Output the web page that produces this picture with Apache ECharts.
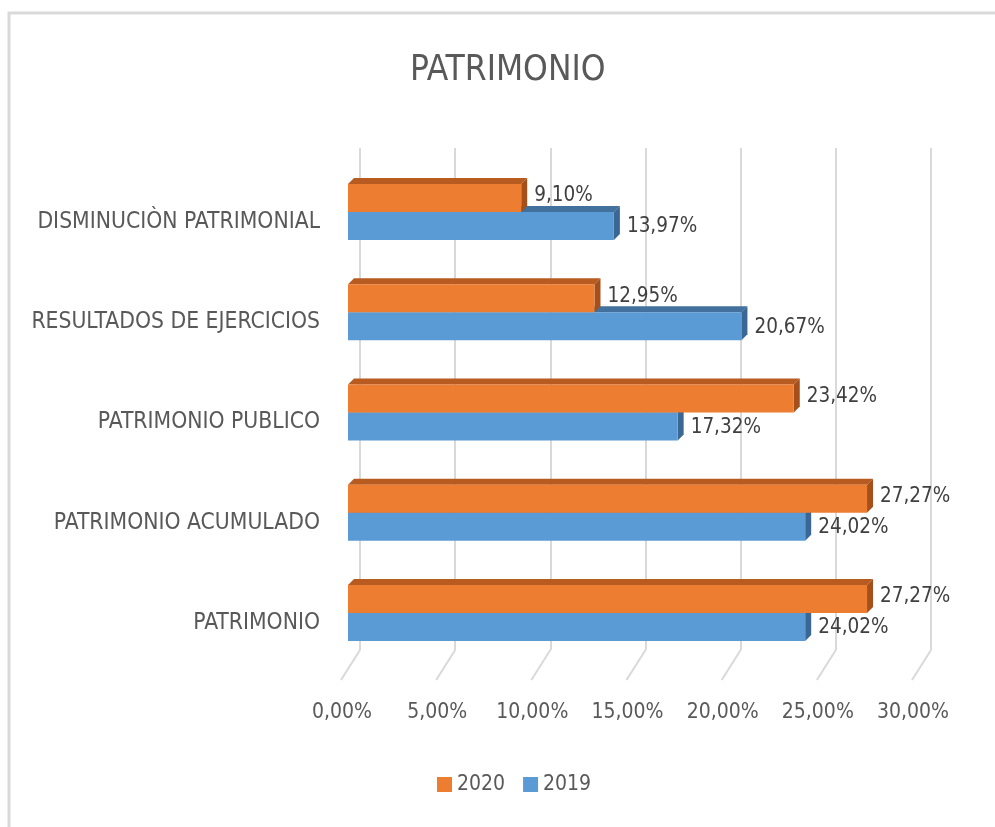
<!DOCTYPE html>
<html><head><meta charset="utf-8">
<script src="https://cdn.jsdelivr.net/npm/echarts@6/dist/echarts.min.js"></script>
<style>html,body{margin:0;padding:0;background:#fff}#c{width:995px;height:827px}</style>
</head><body><div id="c"></div>
<script>
const categories = ['DISMINUCIÒN PATRIMONIAL','RESULTADOS DE EJERCICIOS','PATRIMONIO PUBLICO','PATRIMONIO ACUMULADO','PATRIMONIO'];
const values2020 = [9.10, 12.95, 23.42, 27.27, 27.27];
const values2019 = [13.97, 20.67, 17.32, 24.02, 24.02];
const tickValues = [0, 5, 10, 15, 20, 25, 30];

const FONT = "'Liberation Sans Narrow','DejaVu Sans Condensed',sans-serif";
const TXT = '#595959';
const fmt = v => v.toFixed(2).replace('.', ',') + '%';

const chart = echarts.init(document.getElementById('c'), null, {renderer:'canvas'});

function barRender(color, topColor, sideColor, upper) {
  return function (params, api) {
    const i = api.value(0);
    const v = api.value(1);
    const p0 = api.coord([0, i]);
    const p1 = api.coord([v, i]);
    const bh = 28, dx = 6, dy = -6;
    const x0 = p0[0], x1 = p1[0];
    const yt = upper ? p0[1] - bh : p0[1];
    const yb = yt + bh;
    return {
      type: 'group',
      children: [
        {type:'polygon', shape:{points:[[x0,yt],[x0+dx,yt+dy],[x1+dx,yt+dy],[x1,yt]]}, style:{fill:topColor}},
        {type:'polygon', shape:{points:[[x1,yt],[x1+dx,yt+dy],[x1+dx,yb+dy],[x1,yb]]}, style:{fill:sideColor}},
        {type:'rect', shape:{x:x0, y:yt, width:x1-x0, height:bh}, style:{fill:color}},
        {type:'text', x:x1+13, y:(yt+yb)/2 + (upper ? -2 : 1), style:{text:fmt(v), fill:'#404040', font:'20.5px ' + FONT, textAlign:'left', textVerticalAlign:'middle'}}
      ]
    };
  };
}

const option = {
  animation: false,
  title: {text:'PATRIMONIO', left:405, top:48, textStyle:{fontFamily:FONT, fontSize:35, fontWeight:'normal', color:TXT}},
  legend: {
    data:['2020','2019'], top:769, left:432, itemWidth:15, itemHeight:15, itemGap:18,
    icon:'rect', textStyle:{fontFamily:FONT, fontSize:21, color:TXT}
  },
  graphic: [{type:'rect', shape:{x:9, y:13, width:1100, height:1000}, style:{fill:'none', stroke:'#d9d9d9', lineWidth:3}, z:-10}],
  grid: [
    {left:348, width:571, top:162, height:501},
    {left:360, width:571, top:148, height:502},
    {left:348, width:571, top:172, height:501}
  ],
  xAxis: [
    {gridIndex:0, type:'value', min:0, max:30, interval:5, axisLine:{show:false}, axisTick:{show:false}, splitLine:{show:false},
     axisLabel:{formatter:fmt, fontFamily:FONT, fontSize:21, color:TXT, margin:39, padding:[0,12,0,0]}},
    {gridIndex:1, type:'value', min:0, max:30, interval:5, axisLine:{show:false}, axisTick:{show:false}, axisLabel:{show:false},
     splitLine:{show:true, lineStyle:{color:'#d9d9d9', width:2}}},
    {gridIndex:2, type:'value', min:0, max:30, show:false}
  ],
  yAxis: [
    {gridIndex:0, type:'category', data:categories, inverse:true, axisLine:{show:false}, axisTick:{show:false}, axisLabel:{show:false}},
    {gridIndex:1, type:'value', min:0, max:1, show:false},
    {gridIndex:2, type:'category', data:categories, inverse:true, axisLine:{show:false}, axisTick:{show:false},
     axisLabel:{fontFamily:FONT, fontSize:22.7, color:TXT, margin:28}}
  ],
  series: [
    {type:'custom', name:'floor', xAxisIndex:1, yAxisIndex:1, silent:true, z:1,
     data: tickValues.map(t => [t, 0]),
     renderItem: (params, api) => {
       const p = api.coord([api.value(0), 0]);
       return {type:'line', shape:{x1:p[0], y1:p[1], x2:p[0]-19, y2:p[1]+30}, style:{stroke:'#d9d9d9', lineWidth:2}};
     }},
    {type:'custom', name:'2019', xAxisIndex:0, yAxisIndex:0, z:3, itemStyle:{color:'#5B9BD5'},
     data: values2019.map((v,i) => [i, v]), encode:{x:1, y:0},
     renderItem: barRender('#5B9BD5', '#41719C', '#3A6794', false)},
    {type:'custom', name:'2020', xAxisIndex:0, yAxisIndex:0, z:4, itemStyle:{color:'#ED7D31'},
     data: values2020.map((v,i) => [i, v]), encode:{x:1, y:0},
     renderItem: barRender('#ED7D31', '#B85B20', '#A5501B', true)}
  ]
};
chart.setOption(option);
</script></body></html>
